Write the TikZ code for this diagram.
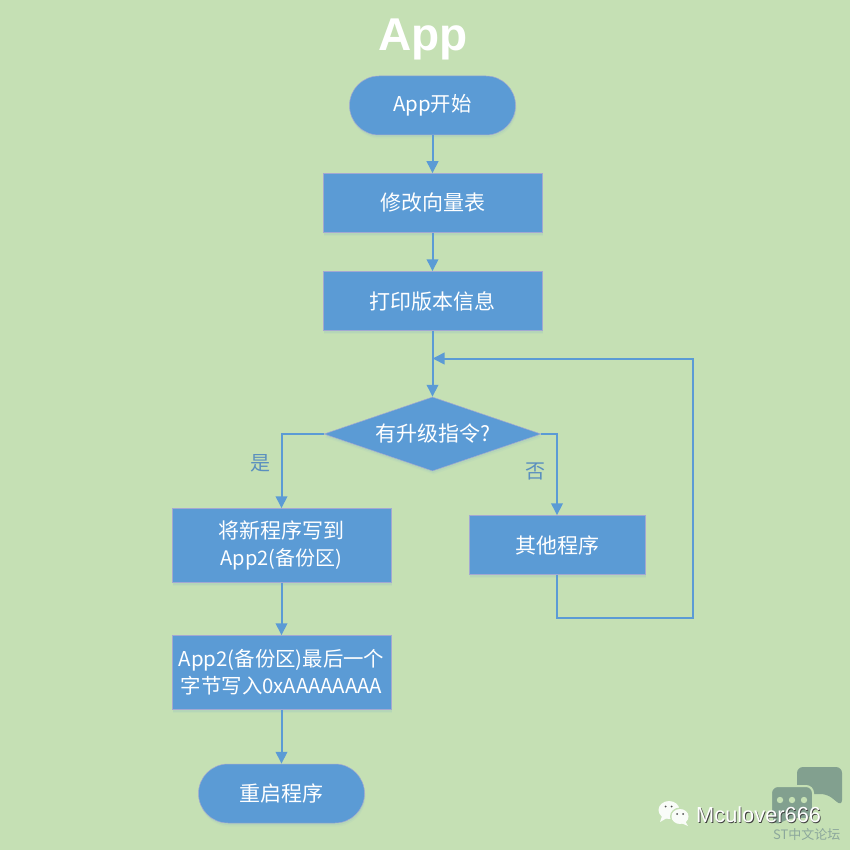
\documentclass[tikz,border=0pt]{standalone}
\usepackage{fontspec}
\setmainfont{Noto Sans CJK SC}
\newfontfamily\titlefont{Liberation Sans}
\newfontfamily\markfont{Liberation Sans}
\usetikzlibrary{shapes.geometric,shadows,arrows.meta}
\definecolor{pagebg}{HTML}{C5E0B4}
\definecolor{flowblue}{HTML}{5B9BD5}
\definecolor{edgetint}{HTML}{A3A8D2}
\definecolor{labelblue}{HTML}{5A8FBF}
\definecolor{bubble}{HTML}{82A08F}
\definecolor{marktext}{HTML}{8CA79C}
\tikzset{
  softshadow/.style={
    drop shadow={shadow xshift=1pt,shadow yshift=-3.5pt,opacity=.05,fill=flowblue},
    drop shadow={shadow xshift=.6pt,shadow yshift=-2pt,opacity=.09,fill=flowblue}},
  shapebase/.style={fill=flowblue,draw=edgetint,line width=.5pt,text=white,font=\fontsize{21}{27}\selectfont,inner sep=0pt,align=center,softshadow},
  boxnode/.style={shapebase,rectangle,minimum width=219pt,minimum height=#1},
  pill/.style={shapebase,rectangle,rounded corners=29.5pt,minimum width=166pt,minimum height=59pt},
  decision/.style={shapebase,diamond,aspect=2.93,minimum width=217pt,minimum height=74pt},
  flow/.style={draw=flowblue,line width=2pt,-{Triangle[length=12pt,width=11.5pt]}},
  branchlabel/.style={text=labelblue,font=\fontsize{20}{24}\selectfont,inner sep=0pt},
  mixedtext/.style={font=\fontsize{20.4}{27}\selectfont},
}
\begin{document}
\begin{tikzpicture}[x=1pt,y=-1pt]
\fill[pagebg] (0,0) rectangle (850,850);
\useasboundingbox (0,0) rectangle (850,850);
\node[text=white,inner sep=0pt,font=\titlefont\bfseries\fontsize{46}{50}\selectfont] (title) at (423,39) {App};
\node[pill,mixedtext] (start) at (432.5,105.5) {\raisebox{-1.5pt}{App开始}};
\node[boxnode=59pt] (vec) at (432.5,203) {\raisebox{-.5pt}{修改向量表}};
\node[boxnode=59pt] (ver) at (432.5,301) {\raisebox{-.5pt}{打印版本信息}};
\node[decision] (cmd) at (432.5,434) {有升级指令?};
\node[boxnode=74pt] (write) at (281.5,545.5) {将新程序写到\\{\fontsize{20}{27}\selectfont App2(备份区)}};
\node[shapebase,rectangle,minimum width=176pt,minimum height=59pt] (other) at (557,545) {其他程序};
\node[boxnode=74pt,mixedtext] (flag) at (281.5,672.5) {App2(备份区)最后一个\\字节写入0xAAAAAAAA};
\node[pill] (restart) at (281.5,793.5) {重启程序};
\node[branchlabel] (yes) at (260,463) {是};
\node[branchlabel] (no) at (535,471) {否};
\coordinate (loopB) at (693,618);
\coordinate (loopC) at (693,358.5);
\coordinate (loopD) at (432.5,358.5);
\draw[flow] (start) -- (vec);
\draw[flow] (vec) -- (ver);
\draw[flow] (ver) -- (cmd);
\draw[flow] (cmd.west) -| (write.north);
\draw[flow] (cmd.east) -| (other.north);
\draw[flow] (write) -- (flag);
\draw[flow] (flag) -- (restart);
\draw[flow] (other.south) |- (loopB) -- (loopC) -- (loopD);
% watermark
\fill[bubble,rounded corners=6pt] (797,767) -- (842,767) -- (842,806) -- (827,794) -- (797,794) -- cycle;
\fill[bubble,draw=pagebg,line width=2pt,rounded corners=7pt] (771,786) -- (813,786) -- (813,819) -- (790,819) -- (775,827) -- (771,819) -- cycle;
\foreach \dx in {780,792,804} \fill[pagebg] (\dx,800) circle (3.2pt);
\fill[white!90!pagebg] (669,810) ellipse (10.5pt and 9pt);
\fill[white!90!pagebg] (662,816) -- (660,822) -- (667,818) -- cycle;
\fill[pagebg] (680,816.5) ellipse (10pt and 9pt);
\fill[white!90!pagebg] (680,816.5) ellipse (8.5pt and 7.5pt);
\fill[white!90!pagebg] (685,821) -- (688,826) -- (681,823) -- cycle;
\foreach \ex/\ey in {665.5/806.5,671.5/806.5,677/814,683/814} \fill[black!70] (\ex,\ey) circle (1pt);
\node[text=black!75,inner sep=0pt,anchor=west,font=\markfont\fontsize{21.8}{24}\selectfont] (markshadow) at (696.8,815.8) {Mculover666};
\node[text=white,inner sep=0pt,anchor=west,font=\markfont\fontsize{21.8}{24}\selectfont] (mark) at (696,815) {Mculover666};
\node[text=marktext,inner sep=0pt,anchor=west,font=\fontsize{13}{15}\selectfont] (st) at (773,834) {ST中文论坛};
\end{tikzpicture}
\end{document}
